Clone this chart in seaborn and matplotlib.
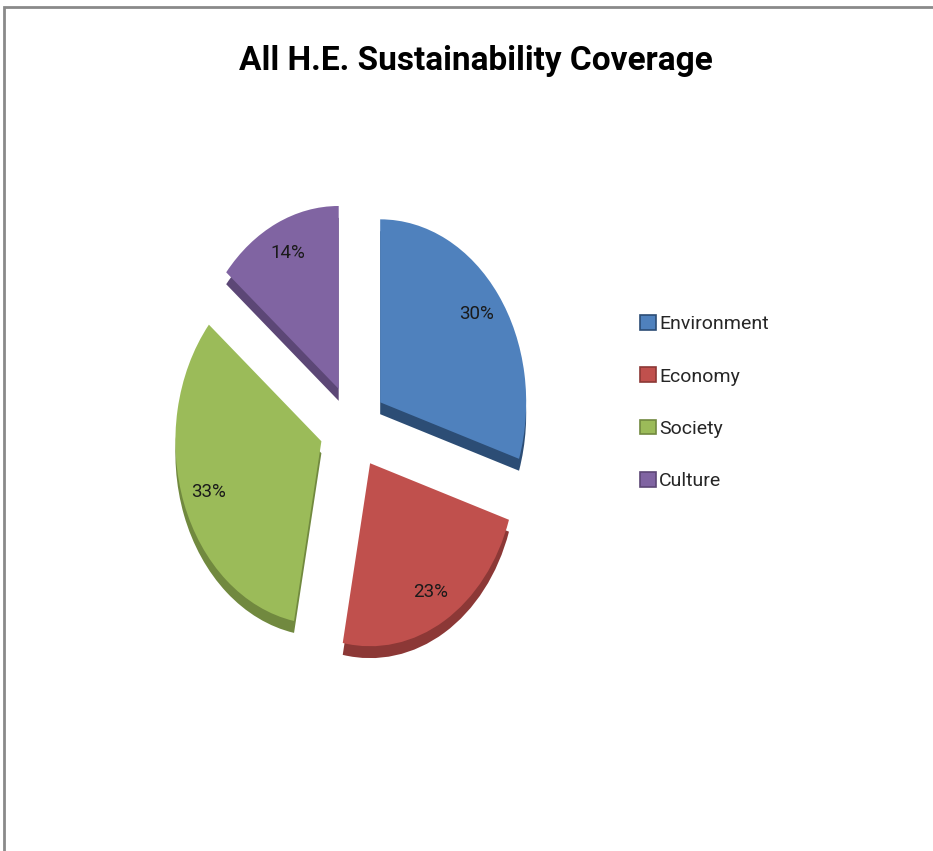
import matplotlib
matplotlib.use("Agg")
import matplotlib.pyplot as plt
from matplotlib.patches import Patch, Rectangle
import seaborn as sns

# data
categories = ["Environment", "Economy", "Society", "Culture"]
shares = [30, 23, 33, 14]
pct_labels = ["30%", "23%", "33%", "14%"]

# Excel 2007 style palette, plus darker tones for the 3D edge
face_colors = sns.color_palette(["#4F81BD", "#C0504D", "#9BBB59", "#8064A2"])
edge_colors = sns.color_palette(["#2C4D75", "#8C3836", "#71893F", "#5C4776"])

sns.set_style("white")
plt.rcParams["font.family"] = ["Roboto", "DejaVu Sans"]

fig = plt.figure(figsize=(9.33, 8.51), dpi=100)

# axes sized so the pie looks like the squashed Excel 3D pie
ax = fig.add_axes([0.1436, 0.1757, 0.4695, 0.645])
explode = [0.23] * len(shares)

# depth layer, shifted down
ax.pie(shares, colors=edge_colors, explode=explode, startangle=90,
       counterclock=False, center=(0, -0.065), radius=1,
       wedgeprops=dict(linewidth=0))
# top face
wedges, _, autotexts = ax.pie(shares, colors=face_colors, explode=explode,
                              startangle=90, counterclock=False,
                              autopct="%1.0f%%", pctdistance=0.82,
                              radius=1, wedgeprops=dict(linewidth=0),
                              textprops=dict(fontsize=13.5, color="#1a1a1a"))
for t, lab in zip(autotexts, pct_labels):
    t.set_text(lab)

ax.set_aspect("auto")
ax.set_xlim(-1.5, 1.5)
ax.set_ylim(-1.5, 1.5)
ax.axis("off")

fig.text(0.51, 0.928, "All H.E. Sustainability Coverage", ha="center",
         va="center", fontsize=24, fontweight="bold", color="black")

handles = [Patch(facecolor=f, edgecolor=e, linewidth=1.2)
           for f, e in zip(face_colors, edge_colors)]
fig.legend(handles, categories, loc="center left",
           bbox_to_anchor=(0.676, 0.527), frameon=False, fontsize=14,
           handlelength=0.8, handleheight=0.8, handletextpad=0.15,
           labelspacing=1.75, borderpad=0)

# chart border (top and left visible)
fig.patches.append(Rectangle((4 / 933, -0.05), 1.2, 1 - 7 / 851 + 0.05,
                             transform=fig.transFigure, fill=False,
                             edgecolor="#8a8a8a", linewidth=2))

fig.savefig("out.png", dpi=100)
